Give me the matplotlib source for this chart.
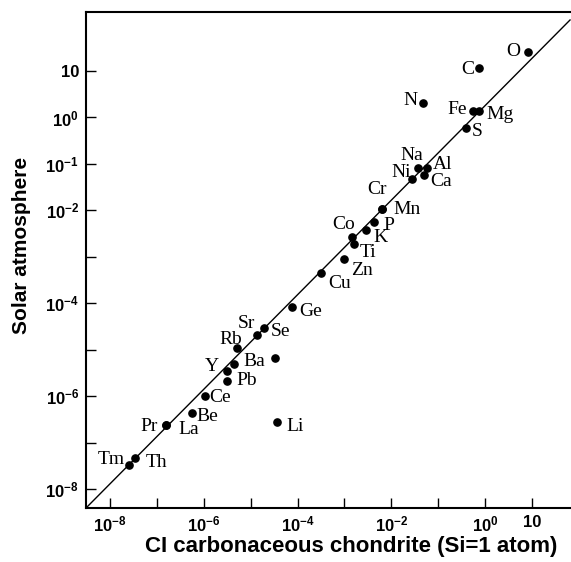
import numpy as np
import matplotlib
matplotlib.use('Agg')
import matplotlib.pyplot as plt

# abundances (Si = 1)
elements = ['O', 'C', 'N', 'Fe', 'Mg', 'S', 'Na', 'Al', 'Ca', 'Ni', 'Cr', 'Mn',
            'P', 'K', 'Co', 'Ti', 'Zn', 'Cu', 'Ge', 'Se', 'Sr', 'Rb', 'Ba', 'Y',
            'Pb', '', 'Ce', 'Be', 'Pr', 'La', 'Th', 'Tm', 'Li']
ci_chondrite = [8.3, 0.75, 0.047, 0.54, 0.75, 0.39, 0.037, 0.058, 0.0485, 0.028,
                0.0062, 0.0062, 0.0043, 0.0029, 0.00143, 0.0016, 0.00099, 3.2e-4,
                7.7e-5, 1.92e-5, 1.35e-5, 5.2e-6, 4.5e-6, 3.1e-6, 3.1e-6, 3.3e-5,
                1.06e-6, 5.5e-7, 1.56e-7, 1.56e-7, 3.4e-8, 2.5e-8, 3.6e-5]
solar = [26, 11.8, 2.0, 1.38, 1.38, 0.60, 0.0805, 0.0805, 0.059, 0.047,
         0.0105, 0.0105, 0.0055, 0.0038, 0.0027, 0.00186, 0.00088, 4.4e-4,
         8.2e-5, 2.9e-5, 2.07e-5, 1.07e-5, 4.8e-6, 3.4e-6, 2.1e-6, 6.5e-6,
         1.0e-6, 4.4e-7, 2.39e-7, 2.39e-7, 4.6e-8, 3.3e-8, 2.8e-7]

# 1:1 reference line end points
ref_x = [3.08e-9, 64.6]
ref_y = [3.9e-9, 125.6]

decades = 10.0 ** np.arange(-8, 2)
x_ticklabels = [r'$10^{-8}$', '', r'$10^{-6}$', '', r'$10^{-4}$', '',
                r'$10^{-2}$', '', r'$10^{0}$', '10']
y_ticklabels = [r'$10^{-8}$', '', r'$10^{-6}$', '', r'$10^{-4}$', '',
                r'$10^{-2}$', r'$10^{-1}$', r'$10^{0}$', '10']

# label offsets from the dot, in pixels (image direction: +y is down)
label_offsets = {
    'O': (-15, 0), 'C': (-12, 2), 'N': (-12, -3), 'Fe': (-15.5, -1),
    'Mg': (21, 4), 'S': (11, 4), 'Na': (-6, -13), 'Al': (15, -4),
    'Ca': (18, 7), 'Ni': (-11, -7), 'Cr': (-5, -20), 'Mn': (25, 0),
    'P': (15, 3), 'K': (14, 8), 'Co': (-8, -12), 'Ti': (14, 8),
    'Zn': (18, 11), 'Cu': (18, 10), 'Ge': (18, 4), 'Se': (17, 3),
    'Sr': (-10, -12), 'Rb': (-7, -9), 'Ba': (20, -3), 'Y': (-15, -5),
    'Pb': (20, -1), 'Ce': (15, 1), 'Be': (15.5, 4), 'Pr': (-17, 2),
    'La': (23, 5), 'Th': (22, 4), 'Tm': (-17, -5), 'Li': (18, 5),
}

plt.rcParams['mathtext.fontset'] = 'custom'
plt.rcParams['mathtext.rm'] = 'Liberation Sans:bold'
plt.rcParams['mathtext.it'] = 'Liberation Sans:bold'
plt.rcParams['mathtext.bf'] = 'Liberation Sans:bold'

fig = plt.figure(figsize=(5.71, 5.62), dpi=100)
ax = fig.add_axes([86 / 571, 54 / 562, 485 / 571, 496 / 562])

ax.plot(ref_x, ref_y, color='black', lw=1.0, zorder=2)
ax.plot(ci_chondrite, solar, 'o', color='black', ms=5.2, zorder=3)

for el, xv, yv in zip(elements, ci_chondrite, solar):
    if not el:
        continue
    dx, dy = label_offsets[el]
    ax.annotate(el, (xv, yv), xytext=(dx * 0.72, -dy * 0.72),
                textcoords='offset points', ha='center', va='center',
                fontsize=14, family='Liberation Serif', color='black')

ax.set_xscale('log')
ax.set_yscale('log')
ax.set_xlim(10 ** -8.512, 10 ** 1.831)
ax.set_ylim(10 ** -8.409, 10 ** 2.271)

ax.set_xticks(decades)
ax.set_xticklabels(x_ticklabels)
ax.set_yticks(decades)
ax.set_yticklabels(y_ticklabels)
ax.minorticks_off()
ax.tick_params(axis='x', direction='in', length=7, width=1, pad=5,
               top=False, labelsize=12)
ax.tick_params(axis='y', direction='in', length=7, width=1, pad=5,
               right=False, labelsize=12)
for lab in ax.get_xticklabels() + ax.get_yticklabels():
    lab.set_fontweight('bold')
    lab.set_family('Liberation Sans')

for side in ['left', 'top', 'bottom']:
    ax.spines[side].set_linewidth(1.5)
ax.spines['right'].set_visible(False)

ax.set_xlabel('CI carbonaceous chondrite (Si=1 atom)', fontsize=16,
              fontweight='bold', family='Liberation Sans', va='center')
ax.set_ylabel('Solar atmosphere', fontsize=15, fontweight='bold',
              family='Liberation Sans', va='center')
ax.xaxis.set_label_coords(0.546, -0.077)
ax.yaxis.set_label_coords(-0.132, 0.529)

fig.savefig('out.png', dpi=100, facecolor='white')
